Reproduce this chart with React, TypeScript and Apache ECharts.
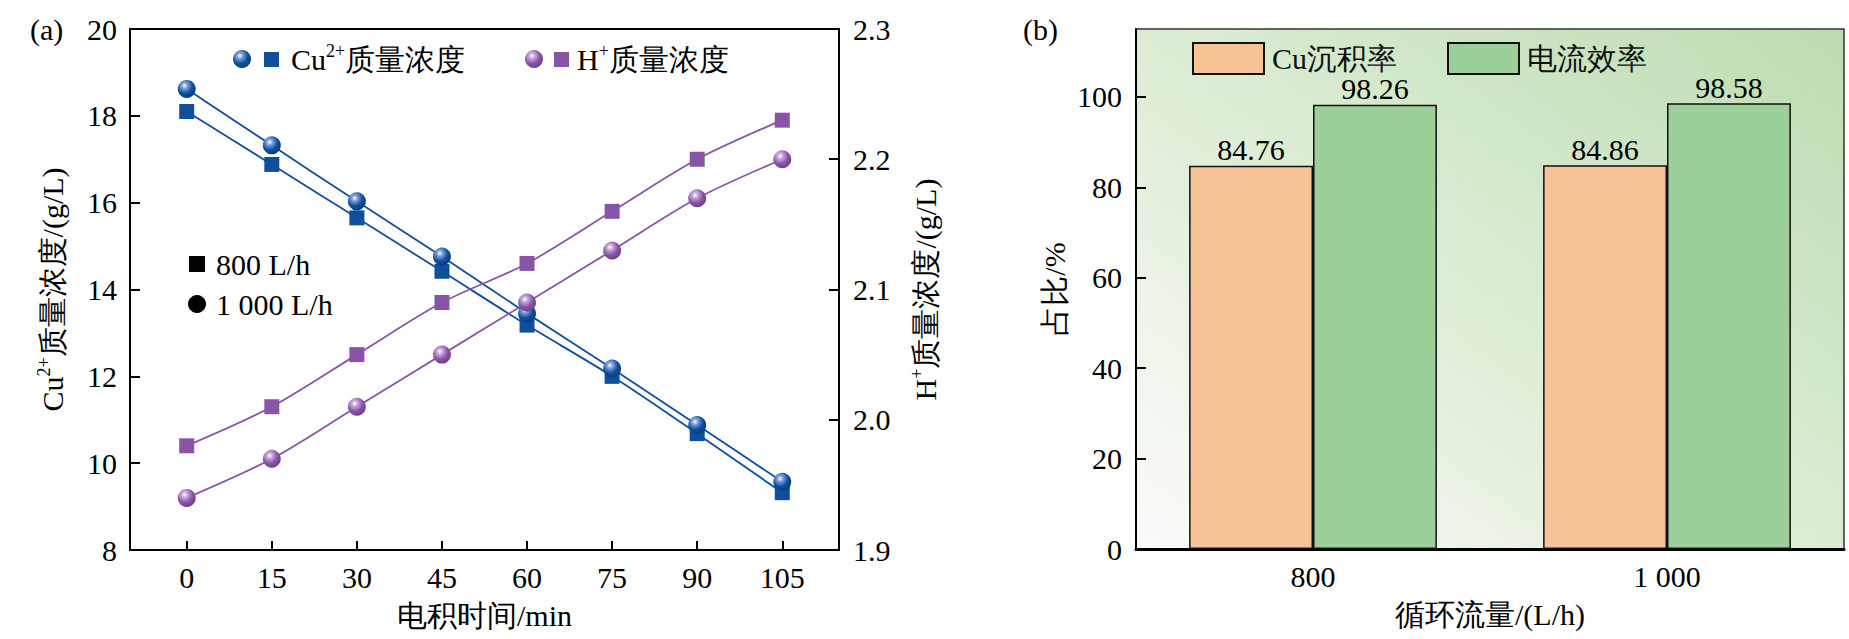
import React, { useEffect, useRef } from "react";
import * as echarts from "echarts";

const timeMin = [0, 15, 30, 45, 60, 75, 90, 105];
const cu800 = [18.1, 16.88, 15.65, 14.42, 13.18, 12.0, 10.68, 9.32];
const cu1000 = [18.62, 17.32, 16.03, 14.76, 13.45, 12.18, 10.88, 9.57];
const h800 = [1.98, 2.01, 2.05, 2.09, 2.12, 2.16, 2.2, 2.23];
const h1000 = [1.94, 1.97, 2.01, 2.05, 2.09, 2.13, 2.17, 2.2];

const flowCats = ["800", "1 000"];
const depositRate = [84.76, 84.86];
const currentEff = [98.26, 98.58];

const FONT = "Liberation Serif";
const FS = 30;
const BLUE = "#0f4f9c";
const PURPLE = "#8855a6";
const ORANGE = "#f5c396";
const GREEN = "#9bd09a";

function sphere(base: string, light: string, dark: string) {
  return new echarts.graphic.RadialGradient(0.38, 0.32, 0.72, [
    { offset: 0, color: "#ffffff" },
    { offset: 0.22, color: light },
    { offset: 0.6, color: base },
    { offset: 1, color: dark },
  ]);
}

const pairs = (xs: number[], ys: number[]) => xs.map((x, i) => [x, ys[i]]);

export default function App() {
  const ref = useRef<HTMLDivElement>(null);
  useEffect(() => {
    if (!ref.current) return;
    const chart = echarts.init(ref.current, undefined, { renderer: "svg" });
    const blueSphere = sphere(BLUE, "#7fa3dc", "#0a3a78");
    const purpleSphere = sphere(PURPLE, "#c9a9dc", "#6b3d88");
    const txt = { fontFamily: FONT, fontSize: FS, color: "#000" };
    const sup = { fontFamily: FONT, fontSize: 18, verticalAlign: "top" as const, lineHeight: 34, color: "#000" };
    const axisLine = { show: true, onZero: false, lineStyle: { color: "#000", width: 2 } };

    const option: any = {
      animation: false,
      textStyle: { fontFamily: FONT },
      grid: [
        { left: 130, top: 29, width: 709, height: 521, show: true, borderColor: "#000", borderWidth: 2, backgroundColor: "transparent" },
        {
          left: 1136, top: 29, width: 708, height: 520, show: true, borderColor: "#333", borderWidth: 1.5,
          backgroundColor: new echarts.graphic.LinearGradient(0, 1, 1, 0, [
            { offset: 0, color: "#fbfcfa" },
            { offset: 0.5, color: "#dcecd4" },
            { offset: 1, color: "#bcdcb0" },
          ]),
        },
      ],
      legend: {
        data: ["Cu沉积率", "电流效率"],
        left: 1187, top: 37, itemWidth: 71, itemHeight: 31, itemGap: 50,
        icon: "rect",
        textStyle: { ...txt, color: "#111", padding: [0, 0, 0, 3] },
      },
      xAxis: [
        {
          type: "value", gridIndex: 0, min: -10, max: 115,
          axisLine,
          axisTick: { show: true, inside: true, length: 9, lineStyle: { width: 2, color: "#000" }, customValues: timeMin },
          axisLabel: { ...txt, margin: 12, customValues: timeMin },
          splitLine: { show: false },
          name: "电积时间/min", nameLocation: "middle", nameGap: 50,
          nameTextStyle: txt,
        },
        {
          type: "category", gridIndex: 1, data: flowCats,
          axisLine: { show: true, lineStyle: { color: "#000", width: 3 } },
          axisTick: { show: false },
          axisLabel: { ...txt, margin: 12 },
          name: "循环流量/(L/h)", nameLocation: "middle", nameGap: 50,
          nameTextStyle: txt,
        },
      ],
      yAxis: [
        {
          type: "value", gridIndex: 0, min: 8, max: 20, interval: 2,
          axisLine,
          axisTick: { show: true, inside: true, length: 10, lineStyle: { width: 2, color: "#000" } },
          axisLabel: { ...txt, margin: 13 },
          splitLine: { show: false },
          name: "Cu{sup|2+}质量浓度/(g/L)", nameLocation: "middle", nameGap: 61,
          nameTextStyle: { ...txt, rich: { sup } },
        },
        {
          type: "value", gridIndex: 0, position: "right", min: 1.9, max: 2.3, interval: 0.1,
          axisLine,
          axisTick: { show: true, inside: true, length: 10, lineStyle: { width: 2, color: "#000" } },
          axisLabel: { ...txt, margin: 14, formatter: (v: number) => v.toFixed(1) },
          splitLine: { show: false },
          name: "H{sup|+}质量浓度/(g/L)", nameLocation: "middle", nameGap: 69, nameRotate: 90,
          nameTextStyle: { ...txt, rich: { sup } },
        },
        {
          type: "value", gridIndex: 1, min: 0, max: 115, interval: 20,
          axisLine,
          axisTick: { show: true, inside: true, length: 10, lineStyle: { width: 2, color: "#000" } },
          axisLabel: { ...txt, margin: 14, showMaxLabel: false },
          splitLine: { show: false },
          name: "占比/%", nameLocation: "middle", nameGap: 67,
          nameTextStyle: txt,
        },
      ],
      series: [
        {
          name: "Cu 800", type: "line", xAxisIndex: 0, yAxisIndex: 0, data: pairs(timeMin, cu800),
          smooth: 0.3, symbol: "rect", symbolSize: 15,
          lineStyle: { color: BLUE, width: 1.8 }, itemStyle: { color: BLUE },
        },
        {
          name: "Cu 1000", type: "line", xAxisIndex: 0, yAxisIndex: 0, data: pairs(timeMin, cu1000),
          smooth: 0.3, symbol: "circle", symbolSize: 18,
          lineStyle: { color: BLUE, width: 1.8 }, itemStyle: { color: blueSphere },
        },
        {
          name: "H 800", type: "line", xAxisIndex: 0, yAxisIndex: 1, data: pairs(timeMin, h800),
          smooth: 0.3, symbol: "rect", symbolSize: 15,
          lineStyle: { color: PURPLE, width: 1.8 }, itemStyle: { color: PURPLE },
        },
        {
          name: "H 1000", type: "line", xAxisIndex: 0, yAxisIndex: 1, data: pairs(timeMin, h1000),
          smooth: 0.3, symbol: "circle", symbolSize: 18,
          lineStyle: { color: PURPLE, width: 1.8 }, itemStyle: { color: purpleSphere },
        },
        {
          name: "Cu沉积率", type: "bar", xAxisIndex: 1, yAxisIndex: 2, data: depositRate,
          barGap: "0%", barCategoryGap: "30%",
          itemStyle: { color: ORANGE, borderColor: "#111", borderWidth: 1.5 },
          label: { show: true, position: "top", distance: 1, ...txt },
        },
        {
          name: "电流效率", type: "bar", xAxisIndex: 1, yAxisIndex: 2, data: currentEff,
          itemStyle: { color: GREEN, borderColor: "#111", borderWidth: 1.5 },
          label: { show: true, position: "top", distance: 1, ...txt },
        },
      ],
      graphic: [
        { type: "text", left: 30, top: 14, style: { text: "(a)", fontFamily: FONT, fontSize: FS, fill: "#000" } },
        { type: "text", left: 1023, top: 14, style: { text: "(b)", fontFamily: FONT, fontSize: FS, fill: "#000" } },
        { type: "circle", shape: { cx: 242, cy: 59, r: 9 }, style: { fill: blueSphere } },
        { type: "rect", shape: { x: 264, y: 52, width: 15, height: 15 }, style: { fill: BLUE } },
        {
          type: "text", x: 291, y: 59,
          style: { text: "Cu{sup|2+}质量浓度", fontFamily: FONT, fontSize: FS, fill: "#000", verticalAlign: "middle", rich: { sup } },
        },
        { type: "circle", shape: { cx: 534, cy: 59, r: 9 }, style: { fill: purpleSphere } },
        { type: "rect", shape: { x: 554, y: 52, width: 15, height: 15 }, style: { fill: PURPLE } },
        {
          type: "text", x: 577, y: 59,
          style: { text: "H{sup|+}质量浓度", fontFamily: FONT, fontSize: FS, fill: "#000", verticalAlign: "middle", rich: { sup } },
        },
        { type: "rect", shape: { x: 189, y: 256, width: 16, height: 16 }, style: { fill: "#000" } },
        { type: "text", x: 216, y: 264, style: { text: "800 L/h", fontFamily: FONT, fontSize: FS, fill: "#000", verticalAlign: "middle" } },
        { type: "circle", shape: { cx: 197, cy: 304, r: 9 }, style: { fill: "#000" } },
        { type: "text", x: 216, y: 304, style: { text: "1 000 L/h", fontFamily: FONT, fontSize: FS, fill: "#000", verticalAlign: "middle" } },
      ],
    };
    chart.setOption(option);
    return () => chart.dispose();
  }, []);
  return (
    <div
      ref={ref}
      style={{ position: "fixed", left: 0, top: 0, width: 1849, height: 639, background: "#fff" }}
    />
  );
}
